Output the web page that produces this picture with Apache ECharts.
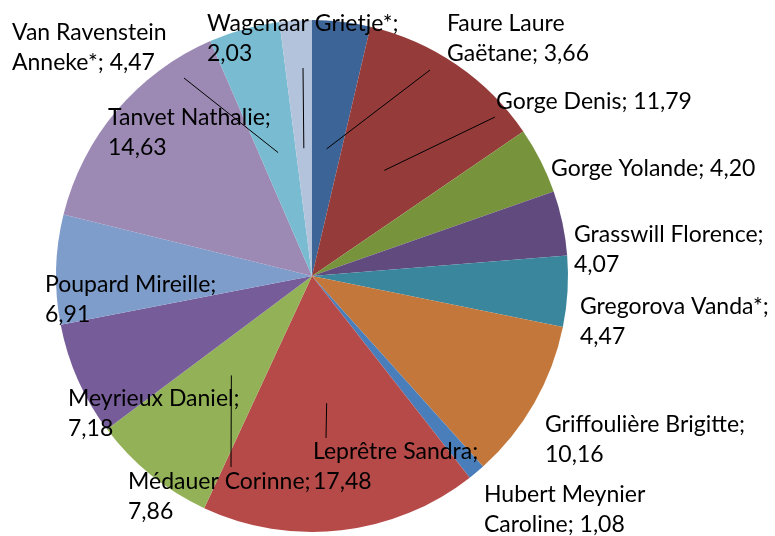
<!DOCTYPE html>
<html>
<head>
<meta charset="utf-8">
<script src="https://cdn.jsdelivr.net/npm/echarts@6/dist/echarts.min.js"></script>
<style>
  html, body { margin: 0; padding: 0; background: #fff; }
  #chart { width: 775px; height: 536px; }
</style>
</head>
<body>
<div id="chart"></div>
<script>
// data
const names = [
  'Faure Laure Gaëtane', 'Gorge Denis', 'Gorge Yolande', 'Grasswill Florence',
  'Gregorova Vanda*', 'Griffoulière Brigitte', 'Hubert Meynier Caroline',
  'Leprêtre Sandra', 'Médauer Corinne', 'Meyrieux Daniel', 'Poupard Mireille',
  'Tanvet Nathalie', 'Van Ravenstein Anneke*', 'Wagenaar Grietje*'
]
const values = [3.66, 11.79, 4.20, 4.07, 4.47, 10.16, 1.08, 17.48, 7.86, 7.18, 6.91, 14.63, 4.47, 2.03]
// where the label wraps: 'name' = last space of the name, 'value' = before the value
const wraps = ['name', '', '', 'value', 'value', 'value', 'name', 'value', 'value', 'value', 'value', 'value', 'name', 'value']

// styles / layout
const colors = [
  '#3c6496', '#953c3a', '#77943d', '#614a7d', '#3a879d', '#c3773a', '#4a7ebb',
  '#b64a48', '#93b257', '#765c99', '#7e9dcb', '#9c8ab5', '#79bcd1', '#b4c3dc'
]
const center = [312, 276]
const radius = 256
// label top-left corners
const labelPos = [
  [447, 9], [496, 87], [551, 154], [574, 220], [580, 292], [545, 410], [484, 480],
  [313, 437], [128, 467], [68, 384], [45, 270], [108, 103], [12, 18], [207, 9]
]
// leader line start (near label), null = no line
const lineStart = [
  [430, 70], [495, 117], null, null, null, null, null,
  [326, 438], [231, 467], null, null, null, [184, 78], [303, 68]
]

const fmtVal = v => v.toFixed(2).replace('.', ',')
const labelText = i => {
  const n = names[i], v = fmtVal(values[i])
  if (wraps[i] === 'name') {
    const k = n.lastIndexOf(' ')
    return n.slice(0, k) + '\n' + n.slice(k + 1) + '; ' + v
  }
  if (wraps[i] === 'value') return n + ';\n' + v
  return n + '; ' + v
}

// mid point of a slice at half radius
const total = values.reduce((a, b) => a + b, 0)
const midPoint = i => {
  let before = 0
  for (let j = 0; j < i; j++) before += values[j]
  const a = (before + values[i] / 2) / total * Math.PI * 2
  return [center[0] + radius / 2 * Math.sin(a), center[1] - radius / 2 * Math.cos(a)]
}

// leader lines, from label to slice middle
const leaders = []
lineStart.forEach((s, i) => {
  if (!s) return
  leaders.push({
    type: 'line',
    z: 10,
    shape: { x1: s[0], y1: s[1], x2: midPoint(i)[0], y2: midPoint(i)[1] },
    style: { stroke: '#000', lineWidth: 1 }
  })
})

const chart = echarts.init(document.getElementById('chart'))
chart.setOption({
  animation: false,
  color: colors,
  graphic: leaders,
  series: [{
    type: 'pie',
    center: center,
    radius: radius,
    startAngle: 90,
    clockwise: true,
    avoidLabelOverlap: false,
    itemStyle: { borderWidth: 0 },
    label: {
      show: true,
      position: 'outside',
      formatter: p => labelText(p.dataIndex),
      fontFamily: 'Lato',
      fontSize: 23,
      lineHeight: 30,
      color: '#000'
    },
    labelLine: { show: false },
    labelLayout: p => {
      const i = p.dataIndex
      return { x: labelPos[i][0], y: labelPos[i][1], align: 'left', verticalAlign: 'top' }
    },
    data: names.map((n, i) => ({ name: n, value: values[i] }))
  }]
})
</script>
</body>
</html>
